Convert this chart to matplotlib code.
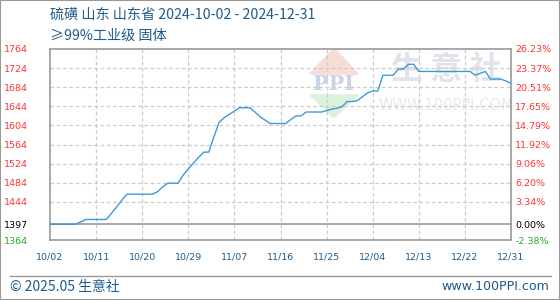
import matplotlib.pyplot as plt
from matplotlib.patches import Polygon, Rectangle
from matplotlib.lines import Line2D
import pandas as pd

plt.rcParams['font.family'] = ['Noto Sans CJK SC', 'DejaVu Sans']

title_1 = "硫磺 山东 山东省 2024-10-02 - 2024-12-31"
title_2 = "≥99%工业级 固体"

dates = pd.date_range("2024-10-02", "2024-12-31", freq="D")
prices = [
    1397, 1397, 1397, 1397, 1397, 1397, 1402, 1407, 1407, 1407,
    1407, 1407, 1420, 1433, 1447, 1460, 1460, 1460, 1460, 1460,
    1460, 1465, 1475, 1483, 1483, 1483, 1500, 1513, 1525, 1537,
    1548, 1548, 1580, 1610, 1620, 1627, 1634, 1641, 1641, 1641,
    1632, 1622, 1615, 1608, 1608, 1608, 1608, 1616, 1624, 1624,
    1632, 1632, 1632, 1632, 1635, 1638, 1640, 1643, 1654, 1654,
    1656, 1664, 1672, 1676, 1676, 1709, 1709, 1709, 1722, 1722,
    1732, 1732, 1717, 1717, 1717, 1717, 1717, 1717, 1717, 1717,
    1717, 1717, 1717, 1709, 1713, 1717, 1701, 1701, 1701, 1697,
    1692,
]

left_ticks = [1764, 1724, 1684, 1644, 1604, 1564, 1524, 1484, 1444, 1397, 1364]
right_labels = ["26.23%", "23.37%", "20.51%", "17.65%", "14.79%", "11.92%",
                "9.06%", "6.20%", "3.34%", "0.00%", "-2.38%"]
base_price = 1397
tick_dates = dates[::9]

W, H = 560, 300
fig = plt.figure(figsize=(W / 100, H / 100), dpi=100)


def px(x, y):
    return (x / W, 1 - y / H)


def label_color(v):
    if v == base_price:
        return "black"
    return "#22aa22" if v < base_price else "#ff3333"


ax = fig.add_axes([50 / W, 60 / H, 461 / W, 191 / H])
ax.set_xlim(dates[0], dates[-1])
ax.set_ylim(1364, 1764)
ax.patch.set_alpha(0)

for s in ax.spines.values():
    s.set_color("#999999")
    s.set_linewidth(1.2)

ax.set_yticks(left_ticks)
ax.set_yticklabels([str(v) for v in left_ticks])
ax.set_xticks(tick_dates)
ax.set_xticklabels([d.strftime("%m/%d") for d in tick_dates])
ax.tick_params(axis="y", length=0, pad=16, labelsize=6.8)
ax.tick_params(axis="x", length=0, pad=9, labelsize=6.8, colors="#1e5b8c")
for lab, v in zip(ax.get_yticklabels(), left_ticks):
    lab.set_color(label_color(v))
    lab.set_family("DejaVu Sans")
for lab in ax.get_xticklabels():
    lab.set_family("DejaVu Sans")

for v in left_ticks[1:9]:
    ax.axhline(v, color="#cccccc", lw=0.9, ls=(0, (3, 2)), zorder=1)
for d in tick_dates[1:-1]:
    ax.axvline(d, color="#cccccc", lw=0.9, ls=(0, (3, 2)), zorder=1)
ax.axhline(base_price, color="#999999", lw=1.2, zorder=2)

ax2 = ax.twinx()
ax2.set_ylim(1364, 1764)
ax2.set_yticks(left_ticks)
ax2.set_yticklabels(right_labels)
ax2.tick_params(axis="y", length=0, pad=3, labelsize=6.8)
for s in ax2.spines.values():
    s.set_visible(False)
for lab, v in zip(ax2.get_yticklabels(), left_ticks):
    lab.set_color(label_color(v))
    lab.set_family("DejaVu Sans")

# watermark
tf = fig.transFigure
ax.add_patch(Polygon([px(334, 48), px(310, 74), px(358, 74)], closed=True,
                     transform=tf, color="#f7dcd8", zorder=0))
ax.add_patch(Polygon([px(310, 95), px(358, 95), px(334, 118)], closed=True,
                     transform=tf, color="#dcf1dc", zorder=0))
ax.text(*px(334, 84), "PPI", transform=tf, ha="center", va="center",
        fontsize=15, color="#ccd3e4", family="DejaVu Serif", fontweight="bold", zorder=0)
ax.text(*px(446, 70), "生 意 社", transform=tf, ha="center", va="center",
        fontsize=23, color="#e0e3ea", fontweight="bold", zorder=0)
ax.text(*px(446, 106), "WWW.100PPI.COM", transform=tf, ha="center", va="center",
        fontsize=10.5, color="#e8e8e8", family="DejaVu Sans", zorder=0)

ax.plot(dates, prices, color="#3a9ad9", lw=1.0, zorder=3)

# header / footer
fig.text(*px(50, 15), title_1, ha="left", va="center", fontsize=10.2, color="#1e5b8c")
fig.text(*px(50, 36), title_2, ha="left", va="center", fontsize=10.2, color="#1e5b8c")
fig.add_artist(Line2D([10 / W, 551 / W], [1 - 276 / H] * 2, transform=tf,
                      color="#999999", lw=1))
fig.text(*px(10, 287), "© 2025.05 生意社", ha="left", va="center", fontsize=10, color="#1e5b8c")
fig.text(*px(549, 287), "www.100PPI.com", ha="right", va="center", fontsize=9.1,
         color="#1e5b8c", family="DejaVu Sans")
fig.add_artist(Rectangle((0, 0), 1, 1, transform=tf, fill=False,
                         edgecolor="#999999", lw=1.5))

fig.savefig("out.png", dpi=100)
